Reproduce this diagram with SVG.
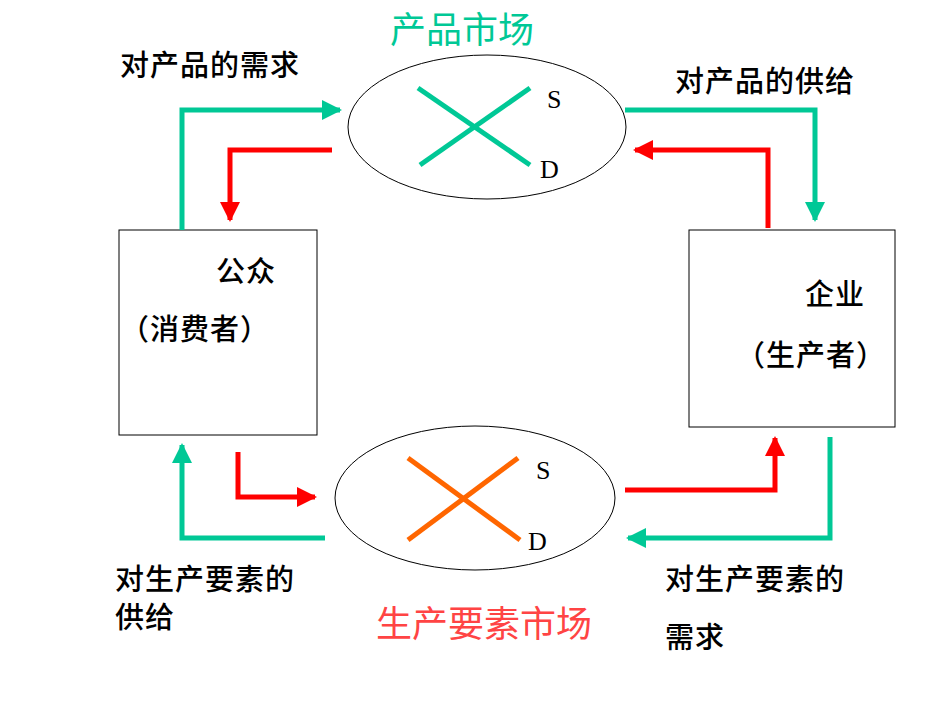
<svg xmlns="http://www.w3.org/2000/svg" width="950" height="713" viewBox="0 0 950 713">
<defs>
<style>
.t{font-family:"Noto Sans CJK SC","Liberation Sans",sans-serif;font-size:29px;font-weight:500;letter-spacing:1px;fill:#000}
.l{font-family:"Liberation Serif",serif;font-size:26px;fill:#000}
.g{stroke:#00C896;stroke-width:5;fill:none}
.r{stroke:#FF0000;stroke-width:5;fill:none}
</style>
<marker id="ag" viewBox="0 0 10 10" refX="9" refY="5" markerWidth="4" markerHeight="4" orient="auto"><path d="M0,0L10,5L0,10z" fill="#00C896"/></marker>
<marker id="ar" viewBox="0 0 10 10" refX="9" refY="5" markerWidth="4" markerHeight="4" orient="auto"><path d="M0,0L10,5L0,10z" fill="#FF0000"/></marker>
</defs>
<rect width="950" height="713" fill="#fff"/>
<g id="market-product">
<ellipse cx="487" cy="127" rx="139" ry="72" fill="#fff" stroke="#000"/>
<line x1="418" y1="88" x2="530" y2="165" stroke="#00C896" stroke-width="5"/>
<line x1="420" y1="165" x2="530" y2="88" stroke="#00C896" stroke-width="5"/>
<text class="l" x="547" y="108">S</text><text class="l" x="540" y="178">D</text>
<text x="462" y="43" font-family="Noto Sans CJK SC,sans-serif" font-size="36" fill="#00C896" text-anchor="middle">产品市场</text>
</g>
<g id="market-factor">
<ellipse cx="475" cy="498" rx="140" ry="72" fill="#fff" stroke="#000"/>
<line x1="408" y1="458" x2="520" y2="540" stroke="#FF6600" stroke-width="5"/>
<line x1="408" y1="540" x2="518" y2="458" stroke="#FF6600" stroke-width="5"/>
<text class="l" x="536" y="479">S</text><text class="l" x="528" y="550">D</text>
<text x="484" y="637" font-family="Noto Sans CJK SC,sans-serif" font-size="36" fill="#FF4444" text-anchor="middle">生产要素市场</text>
</g>
<g id="public">
<rect x="119" y="230" width="198" height="205" fill="#fff" stroke="#000"/>
<text class="t" x="216" y="282">公众</text>
<text class="t" x="120" y="340">（消费者）</text>
</g>
<g id="firm">
<rect x="689" y="230" width="206" height="197" fill="#fff" stroke="#000"/>
<text class="t" x="805" y="305">企业</text>
<text class="t" x="736" y="366">（生产者）</text>
</g>
<g id="connectors">
<polyline class="g" points="182,230 182,110 340,110" marker-end="url(#ag)"/>
<polyline class="r" points="332,150 230,150 230,220" marker-end="url(#ar)"/>
<polyline class="g" points="625,110 815,110 815,220" marker-end="url(#ag)"/>
<polyline class="r" points="768,228 768,150 635,150" marker-end="url(#ar)"/>
<polyline class="r" points="238,452 238,497 315,497" marker-end="url(#ar)"/>
<polyline class="g" points="325,538 182,538 182,445" marker-end="url(#ag)"/>
<polyline class="r" points="625,490 775,490 775,438" marker-end="url(#ar)"/>
<polyline class="g" points="830,437 830,538 628,538" marker-end="url(#ag)"/>
</g>
<g id="labels">
<text class="t" x="120" y="76">对产品的需求</text>
<text class="t" x="675" y="92">对产品的供给</text>
<text class="t" x="115" y="590">对生产要素的</text>
<text class="t" x="115" y="628">供给</text>
<text class="t" x="665" y="590">对生产要素的</text>
<text class="t" x="665" y="648">需求</text>
</g>
</svg>
